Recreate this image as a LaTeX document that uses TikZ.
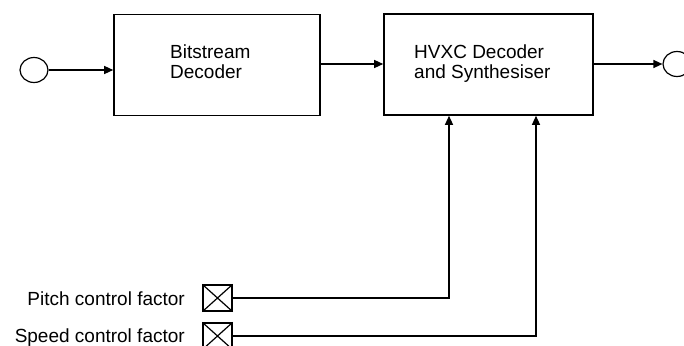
\documentclass[tikz,border=0pt]{standalone}
\usepackage{fontspec}
\setmainfont{Liberation Sans}
\usetikzlibrary{arrows.meta,shapes.geometric}
\begin{document}
\begin{tikzpicture}[x=1pt,y=-1pt,
  blockbox/.style={draw,line width=1.6pt,inner sep=0pt},
  term/.style={draw,ellipse,line width=1.2pt,minimum width=28pt,minimum height=25pt,inner sep=0pt},
  ctrlbox/.style={draw,line width=1.2pt,minimum width=29pt,minimum height=26pt,inner sep=0pt},
  conn/.style={line width=1.3pt,-{Triangle[length=9pt,width=8pt]}},
  wire/.style={line width=1.3pt},
  txt/.style={font=\fontsize{19}{20}\selectfont,inner sep=0pt},
]
\clip (0,0) rectangle (684,345);
\useasboundingbox (0,0) rectangle (684,345);
% terminals
\node[term] (in) at (34,70) {};
\node[term] (out) at (677,64) {};
% blocks
\node[blockbox,minimum width=206pt,minimum height=101pt] (bd) at (217,65) {};
\node[blockbox,minimum width=209pt,minimum height=101pt] (hv) at (488.5,64.5) {};
\node[txt,anchor=base west] (bdt1) at (170,58) {Bitstream};
\node[txt,anchor=base west] (bdt2) at (170,78) {Decoder};
\node[txt,anchor=base west] (hvt1) at (414,58) {HVXC Decoder};
\node[txt,anchor=base west] (hvt2) at (414,78) {and Synthesiser};
% control inputs
\node[ctrlbox] (pc) at (217.5,298) {};
\node[ctrlbox] (sc) at (217.5,336) {};
\draw[line width=1.2pt] (pc.north west) -- (pc.south east) (pc.south west) -- (pc.north east);
\draw[line width=1.2pt] (sc.north west) -- (sc.south east) (sc.south west) -- (sc.north east);
\node[txt,anchor=base east] (pct) at (185,305) {Pitch control factor};
\node[txt,anchor=base east] (sct) at (185,342) {Speed control factor};
% connectors
\draw[conn] (in.east) -- (bd.west |- in.east);
\draw[conn] (bd.east |- 0,64) -- (hv.west |- 0,64);
\draw[conn] (hv.east |- 0,64) -- (out.west);
\coordinate (pk) at (449,298);
\coordinate (sk) at (536,336);
\draw[conn] (pc.east) -- (pk) -- (pk |- hv.south);
\draw[conn] (sc.east) -- (sk) -- (sk |- hv.south);
\end{tikzpicture}
\end{document}
